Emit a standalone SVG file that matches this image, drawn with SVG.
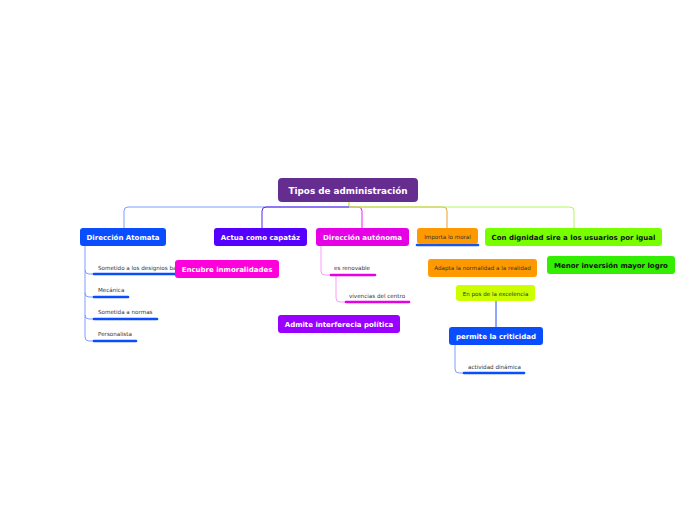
<svg xmlns="http://www.w3.org/2000/svg" width="697" height="520" viewBox="0 0 697 520">
<style>
.b{font-family:"DejaVu Sans",Verdana,sans-serif;font-weight:bold;font-size:7px;text-anchor:middle;fill:#fff}
.k{fill:#111}
.s{font-family:"DejaVu Sans",Verdana,sans-serif;font-size:5.6px;fill:#333}
.sc{text-anchor:middle}
.c{fill:none;stroke-width:1}
.u{stroke-width:2.6;stroke-linecap:round;fill:none}
</style>
<rect width="697" height="520" fill="#fff"/>
<g id="connectors">
<path class="c" stroke="#b5d600" d="M349,202 V207"/>
<path class="c" stroke="#7d9dff" d="M349,207 H128 Q124,207 124,211 V228"/>
<path class="c" stroke="#6020f0" d="M349,207 H266 Q262,207 262,211 V228"/>
<path class="c" stroke="#ee22ee" d="M349,207 H358 Q362,207 362,211 V228"/>
<path class="c" stroke="#e8a030" d="M349,207 H443 Q447,207 447,211 V228"/>
<path class="c" stroke="#b5f560" d="M349,207 H570 Q574,207 574,211 V228"/>
<path class="c" stroke="#7d9dff" d="M85,246 V270 Q85,274 89,274 H93 M85,270 V293 Q85,297 89,297 H93 M85,293 V315 Q85,319 89,319 H93 M85,315 V337 Q85,341 89,341 H93"/>
<path class="c" stroke="#ff99ff" d="M321,246 V271 Q321,275 325,275 H330"/>
<path class="c" stroke="#ff99ff" d="M336,275 V298 Q336,302 340,302 H345"/>
<path class="c" stroke="#1a4dff" d="M496,301 V327"/>
<path class="c" stroke="#7d9dff" d="M455,345 V369 Q455,373 459,373 H463"/>
<path class="u" stroke="#0a4dff" d="M94,274 H180"/>
<path class="u" stroke="#0a4dff" d="M94,297 H128"/>
<path class="u" stroke="#0a4dff" d="M94,319 H157"/>
<path class="u" stroke="#0a4dff" d="M94,341 H136"/>
<path class="u" stroke="#e600e6" d="M331,275 H375"/>
<path class="u" stroke="#e600e6" d="M346,302 H409"/>
<path class="u" stroke="#0a4dff" d="M464,373 H524"/>
<path class="u" stroke="#1a55e8" d="M417,245 H478"/>
</g>
<g id="root"><rect x="278" y="178" width="140" height="24" rx="4" fill="#662d91"/><text class="b" x="348" y="194" style="font-size:8.8px">Tipos de administración</text></g>
<g id="n1"><rect x="80" y="228" width="86" height="18" rx="3" fill="#0a4dff"/><text class="b" x="123" y="240">Dirección Atomata</text></g>
<g id="n1a"><text class="s" x="98" y="270">Sometido a los designios ba</text></g>
<g id="n1b"><text class="s" x="98" y="292">Mecánica</text></g>
<g id="n1c"><text class="s" x="98" y="314">Sometida a normas</text></g>
<g id="n1d"><text class="s" x="98" y="336">Personalista</text></g>
<g id="n2"><rect x="214" y="228" width="93" height="18" rx="3" fill="#5500ff"/><text class="b" x="260.5" y="240">Actua como capatáz</text></g>
<g id="n3"><rect x="316" y="228" width="93" height="18" rx="3" fill="#e600e6"/><text class="b" x="362.5" y="240">Dirección autónoma</text></g>
<g id="n3a"><text class="s" x="334" y="270">es renovable</text></g>
<g id="n3b"><text class="s" x="349" y="298">vivencias del centro</text></g>
<g id="n4"><rect x="417" y="228" width="61" height="16" rx="3" fill="#ff9900"/><text class="s sc" x="447.5" y="238.5">Importa lo moral</text></g>
<g id="n5"><rect x="485" y="228" width="177" height="18" rx="3" fill="#77ff00"/><text class="b k" x="573.5" y="240">Con dignidad sire a los usuarios por igual</text></g>
<g id="n6"><rect x="547" y="256" width="128" height="18" rx="3" fill="#33ee00"/><text class="b k" x="611" y="268">Menor inversión mayor logro</text></g>
<g id="n7"><rect x="175" y="260" width="104" height="18" rx="3" fill="#ff00dd"/><text class="b" x="227" y="272">Encubre inmoralidades</text></g>
<g id="n8"><rect x="428" y="259" width="109" height="18" rx="3" fill="#ff9900"/><text class="s sc k" x="482.5" y="270">Adapta la normalidad a la realidad</text></g>
<g id="n9"><rect x="456" y="285" width="79" height="16" rx="3" fill="#ccff00"/><text class="s sc k" x="495.5" y="295.5">En pos de la excelencia</text></g>
<g id="n10"><rect x="449" y="327" width="94" height="18" rx="3" fill="#0a4dff"/><text class="b" x="496" y="339">permite la criticidad</text></g>
<g id="n10a"><text class="s" x="468" y="369">actividad dinámica</text></g>
<g id="n11"><rect x="278" y="315" width="122" height="18" rx="3" fill="#9900ff"/><text class="b" x="339" y="327">Admite interferecia política</text></g>
</svg>
